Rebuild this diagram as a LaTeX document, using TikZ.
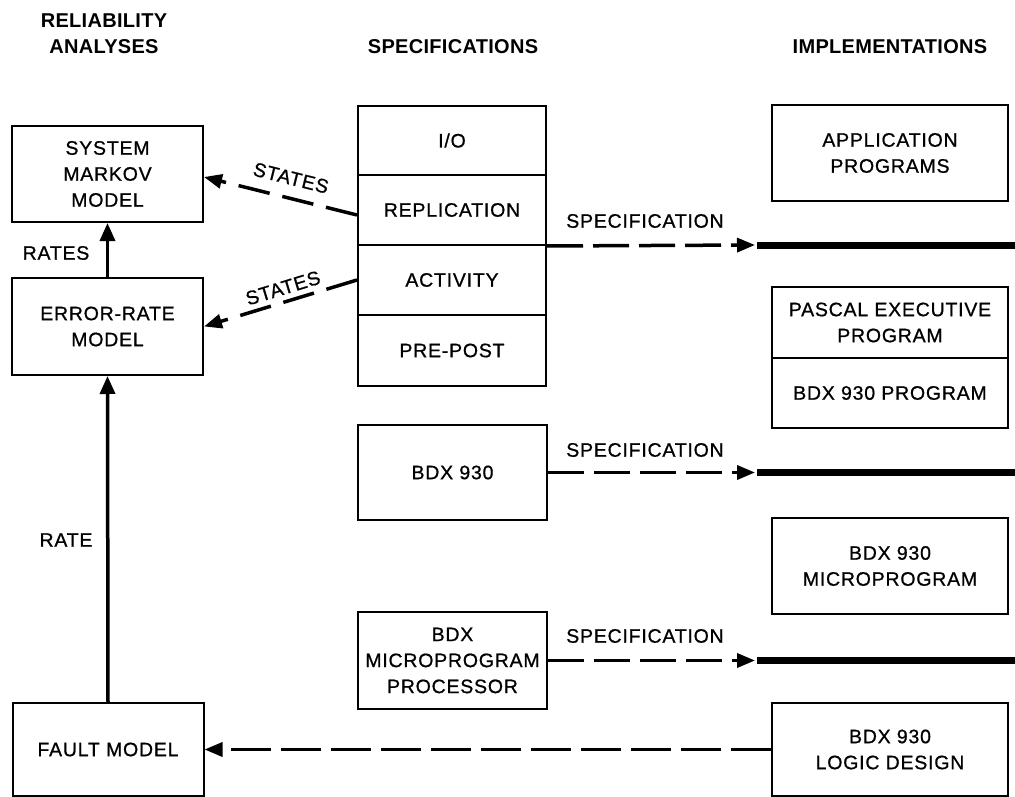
\documentclass[tikz,border=0pt]{standalone}
\usepackage{fontspec}
\setmainfont{Liberation Sans}
\newfontfamily\boxfont{Liberation Sans}[LetterSpace=4, FakeBold=0.8]
\newfontfamily\hdrfont{Liberation Sans}[LetterSpace=1.5]
\usetikzlibrary{arrows.meta}
\tikzset{
  box/.style={draw, line width=2pt, minimum width=191pt, minimum height=96pt,
    align=center, inner sep=0pt, font=\boxfont\fontsize{19.5}{26}\selectfont},
  cell/.style={box, minimum width=188pt, minimum height=70pt},
  rbox/.style={box, minimum width=236pt},
  hdr/.style={font=\hdrfont\fontsize{20}{26}\selectfont\bfseries, align=center},
  lbl/.style={font=\boxfont\fontsize{19.5}{24}\selectfont},
  dasharrow/.style={line width=3.5pt, dash pattern=on 36pt off 10pt,
    -{Triangle[length=18pt,width=14pt]}},
  solidarrow/.style={line width=3.5pt, -{Triangle[length=18pt,width=15pt]}},
  bus/.style={line width=7pt},
}
\begin{document}
\begin{tikzpicture}[x=1pt,y=-1pt]
\useasboundingbox (0,0) rectangle (1015,797);

% headers
\node[hdr] (hrel) at (104,34) {RELIABILITY\\ANALYSES};
\node[hdr] (hspec) at (453,47) {SPECIFICATIONS};
\node[hdr] (himpl) at (890,47) {IMPLEMENTATIONS};

% left column
\node[box] (markov) at (107.5,174) {SYSTEM\\MARKOV\\MODEL};
\node[box, minimum height=97pt] (err) at (107.5,326.5) {ERROR-RATE\\MODEL};
\node[box, minimum height=93pt] (fault) at (108,749.5) {FAULT MODEL};

% specification stack
\node[cell, minimum height=69pt] (io) at (452,140.5) {I/O};
\node[cell] (repl) at (452,210) {REPLICATION};
\node[cell] (act) at (452,280) {ACTIVITY};
\node[cell, minimum height=71pt] (pre) at (452,350.5) {PRE-POST};

\node[box, minimum width=189pt, minimum height=95pt] (bdx) at (452.5,472.5) {BDX 930};
\node[box, minimum width=189pt, minimum height=97pt] (proc) at (452.5,660.5) {BDX\\MICROPROGRAM\\PROCESSOR};

% implementations
\node[rbox] (app) at (890,153) {APPLICATION\\PROGRAMS};
\node[rbox, minimum height=71pt] (pascal) at (890,322.5) {PASCAL EXECUTIVE\\PROGRAM};
\node[rbox, minimum height=70pt] (bdxprog) at (890,393) {BDX 930 PROGRAM};
\node[rbox] (micro) at (890,566) {BDX 930\\MICROPROGRAM};
\node[rbox, minimum height=93pt] (logic) at (890,749.5) {BDX 930\\LOGIC DESIGN};

% specification connectors
\coordinate (a1) at (755,245);
\coordinate (b1) at (757,245);
\coordinate (e1) at (1015,245);
\coordinate (a2) at (755,472.5);
\coordinate (b2) at (757,472.5);
\coordinate (e2) at (1015,472.5);
\coordinate (a3) at (755,660.5);
\coordinate (b3) at (757,660.5);
\coordinate (e3) at (1015,660.5);

\draw[dasharrow] (repl.south east) -- (a1);
\draw[bus] (b1) -- (e1);
\draw[dasharrow] (bdx.east) -- (a2);
\draw[bus] (b2) -- (e2);
\draw[dasharrow] (proc.east) -- (a3);
\draw[bus] (b3) -- (e3);

\node[lbl] (s1) at (645,221) {SPECIFICATION};
\node[lbl] (s2) at (645,450) {SPECIFICATION};
\node[lbl] (s3) at (645,636) {SPECIFICATION};

% reliability connectors
\draw[solidarrow] (err.north) -- (markov.south);
\draw[solidarrow] (fault.north) -- (err.south);
\node[lbl] (rates) at (56,253) {RATES};
\node[lbl] (rate) at (66,540) {RATE};

\draw[dasharrow, dash pattern=on 32pt off 13pt] ([yshift=-5pt]repl.west) -- ([yshift=-3pt]markov.east);
\draw[dasharrow, dash pattern=on 32pt off 13pt] (act.west) -- (err.east);
\node[lbl, rotate=-14] (st1) at (291,178) {STATES};
\node[lbl, rotate=17] (st2) at (283,288) {STATES};

\draw[dasharrow, dash pattern=on 40pt off 10pt] (logic.west) -- (fault.east);
\end{tikzpicture}
\end{document}
